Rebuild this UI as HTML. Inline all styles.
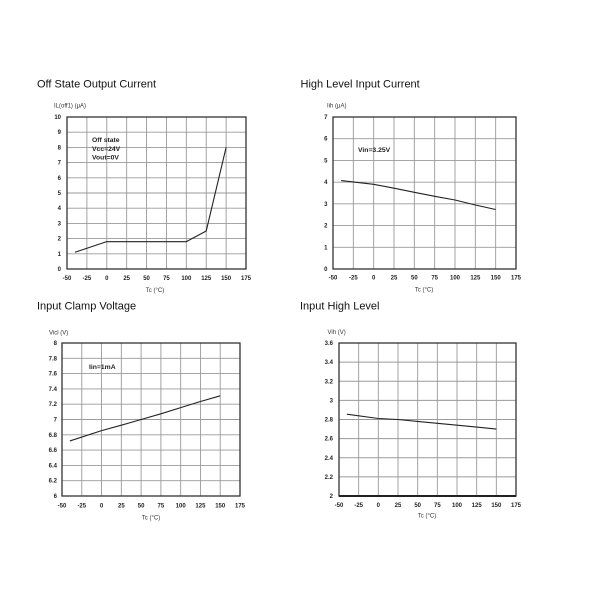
<!DOCTYPE html>
<html><head><meta charset="utf-8"><style>
html,body{margin:0;padding:0;background:#fff;}
svg{display:block;}
text{font-family:"Liberation Sans",Arial,sans-serif;fill:#222;}
.t{font-size:11px;fill:#111;}
.k{font-size:6px;font-weight:bold;fill:#333;}
.a{font-size:6px;fill:#333;}
.n{font-size:6.8px;font-weight:bold;fill:#222;}
.g{stroke:#9a9a9a;stroke-width:0.9;fill:none;}
.f{stroke:#333;stroke-width:1.3;fill:none;}
.d{stroke:#222;stroke-width:1.1;fill:none;stroke-linejoin:round;}
</style></head><body>
<svg width="600" height="600" viewBox="0 0 600 600" xmlns="http://www.w3.org/2000/svg">
<rect width="600" height="600" fill="#fff"/>

<!-- Chart 1 -->
<text class="t" x="37" y="87.5">Off State Output Current</text>
<text class="a" x="54" y="107.3">IL(off1) (μA)</text>
<path class="g" d="M86.89 117V269M106.78 117V269M126.67 117V269M146.56 117V269M166.44 117V269M186.33 117V269M206.22 117V269M226.11 117V269M67 253.8H246M67 238.6H246M67 223.4H246M67 208.2H246M67 193H246M67 177.8H246M67 162.6H246M67 147.4H246M67 132.2H246"/>
<rect class="f" x="67" y="117" width="179" height="152"/>
<polyline class="d" points="74.96,252.28 106.78,241.64 186.33,241.64 206.22,231 226.11,147.4"/>
<g class="k" text-anchor="end">
<text x="61" y="271">0</text><text x="61" y="255.8">1</text><text x="61" y="240.6">2</text><text x="61" y="225.4">3</text><text x="61" y="210.2">4</text><text x="61" y="195">5</text><text x="61" y="179.8">6</text><text x="61" y="164.6">7</text><text x="61" y="149.4">8</text><text x="61" y="134.2">9</text><text x="61" y="119">10</text>
</g>
<g class="k" text-anchor="middle">
<text x="67" y="280">-50</text><text x="86.89" y="280">-25</text><text x="106.78" y="280">0</text><text x="126.67" y="280">25</text><text x="146.56" y="280">50</text><text x="166.44" y="280">75</text><text x="186.33" y="280">100</text><text x="206.22" y="280">125</text><text x="226.11" y="280">150</text><text x="246" y="280">175</text>
</g>
<text class="a" x="155" y="292" text-anchor="middle">Tc (°C)</text>
<text class="n" x="92" y="142">Off state</text>
<text class="n" x="92" y="151">Vcc=24V</text>
<text class="n" x="92" y="159.5">Vout=0V</text>

<!-- Chart 2 -->
<text class="t" x="300.5" y="87.5">High Level Input Current</text>
<text class="a" x="327" y="107.5">Iih (μA)</text>
<path class="g" d="M353.33 117V269M373.67 117V269M394 117V269M414.33 117V269M434.67 117V269M455 117V269M475.33 117V269M495.67 117V269M333 247.29H516M333 225.57H516M333 203.86H516M333 182.14H516M333 160.43H516M333 138.71H516"/>
<rect class="f" x="333" y="117" width="183" height="152"/>
<polyline class="d" points="341.13,180.6 373.67,184.3 394,188.2 414.33,192.3 434.67,196.3 455,200 475.33,205 495.67,209.5"/>
<g class="k" text-anchor="end">
<text x="327.5" y="271">0</text><text x="327.5" y="249.3">1</text><text x="327.5" y="227.6">2</text><text x="327.5" y="205.9">3</text><text x="327.5" y="184.1">4</text><text x="327.5" y="162.4">5</text><text x="327.5" y="140.7">6</text><text x="327.5" y="119">7</text>
</g>
<g class="k" text-anchor="middle">
<text x="333" y="279.5">-50</text><text x="353.33" y="279.5">-25</text><text x="373.67" y="279.5">0</text><text x="394" y="279.5">25</text><text x="414.33" y="279.5">50</text><text x="434.67" y="279.5">75</text><text x="455" y="279.5">100</text><text x="475.33" y="279.5">125</text><text x="495.67" y="279.5">150</text><text x="516" y="279.5">175</text>
</g>
<text class="a" x="424" y="291.7" text-anchor="middle">Tc (°C)</text>
<text class="n" x="358" y="152">Vin=3.25V</text>

<!-- Chart 3 -->
<text class="t" x="37" y="309.5">Input Clamp Voltage</text>
<text class="a" x="49" y="334.3">Vicl (V)</text>
<path class="g" d="M81.78 343V496M101.56 343V496M121.33 343V496M141.11 343V496M160.89 343V496M180.67 343V496M200.44 343V496M220.22 343V496M62 480.7H240M62 465.4H240M62 450.1H240M62 434.8H240M62 419.5H240M62 404.2H240M62 388.9H240M62 373.6H240M62 358.3H240"/>
<rect class="f" x="62" y="343" width="178" height="153"/>
<polyline class="d" points="69.91,440.92 101.56,430.6 121.33,425.2 141.11,419.5 160.89,413.8 180.67,407.6 200.44,401.5 220.22,395.8"/>
<g class="k" text-anchor="end">
<text x="57" y="498">6</text><text x="57" y="482.7">6.2</text><text x="57" y="467.4">6.4</text><text x="57" y="452.1">6.6</text><text x="57" y="436.8">6.8</text><text x="57" y="421.5">7</text><text x="57" y="406.2">7.2</text><text x="57" y="390.9">7.4</text><text x="57" y="375.6">7.6</text><text x="57" y="360.3">7.8</text><text x="57" y="345">8</text>
</g>
<g class="k" text-anchor="middle">
<text x="62" y="507.7">-50</text><text x="81.78" y="507.7">-25</text><text x="101.56" y="507.7">0</text><text x="121.33" y="507.7">25</text><text x="141.11" y="507.7">50</text><text x="160.89" y="507.7">75</text><text x="180.67" y="507.7">100</text><text x="200.44" y="507.7">125</text><text x="220.22" y="507.7">150</text><text x="240" y="507.7">175</text>
</g>
<text class="a" x="151" y="519.3" text-anchor="middle">Tc (°C)</text>
<text class="n" x="89" y="369">Iin=1mA</text>

<!-- Chart 4 -->
<text class="t" x="300" y="309.5">Input High Level</text>
<text class="a" x="327.5" y="334">Vih (V)</text>
<path class="g" d="M358.67 343V496M378.33 343V496M398 343V496M417.67 343V496M437.33 343V496M457 343V496M476.67 343V496M496.33 343V496M339 476.875H516M339 457.75H516M339 438.625H516M339 419.5H516M339 400.375H516M339 381.25H516M339 362.125H516"/>
<rect class="f" x="339" y="343" width="177" height="153"/>
<line x1="339" y1="496" x2="516" y2="496" stroke="#222" stroke-width="2"/>
<polyline class="d" points="346.87,414.2 378.33,418.5 398,419.5 417.67,421.4 437.33,423.3 457,425.2 476.67,427.1 496.33,429.1"/>
<g class="k" text-anchor="end">
<text x="333" y="498">2</text><text x="333" y="478.9">2.2</text><text x="333" y="459.8">2.4</text><text x="333" y="440.6">2.6</text><text x="333" y="421.5">2.8</text><text x="333" y="402.4">3</text><text x="333" y="383.3">3.2</text><text x="333" y="364.1">3.4</text><text x="333" y="345">3.6</text>
</g>
<g class="k" text-anchor="middle">
<text x="339" y="507">-50</text><text x="358.67" y="507">-25</text><text x="378.33" y="507">0</text><text x="398" y="507">25</text><text x="417.67" y="507">50</text><text x="437.33" y="507">75</text><text x="457" y="507">100</text><text x="476.67" y="507">125</text><text x="496.33" y="507">150</text><text x="516" y="507">175</text>
</g>
<text class="a" x="427" y="517.7" text-anchor="middle">Tc (°C)</text>
</svg>
</body></html>
